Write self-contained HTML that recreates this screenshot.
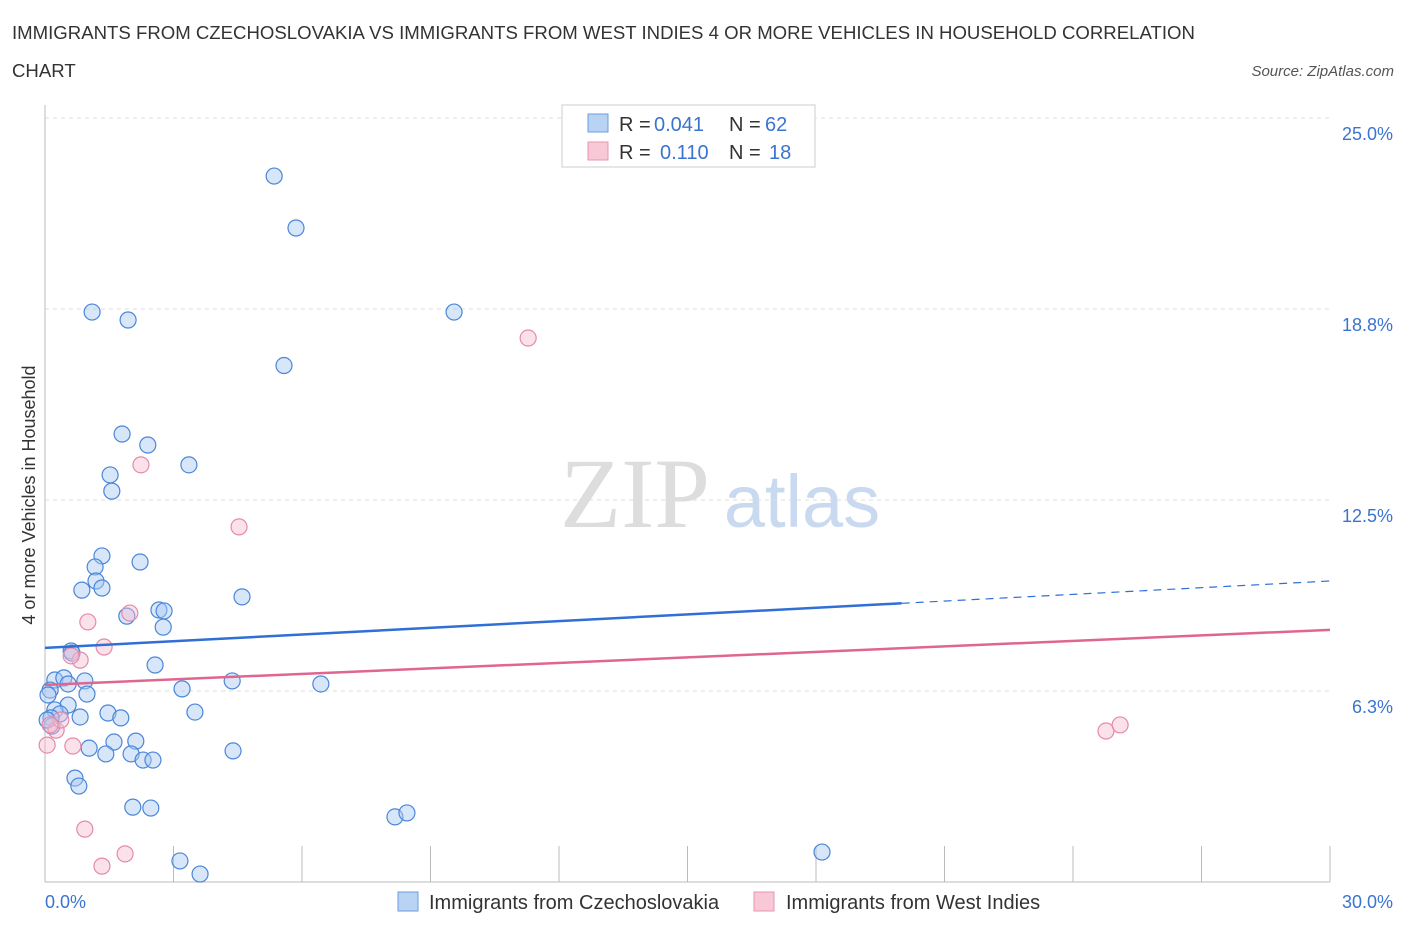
<!DOCTYPE html>
<html><head><meta charset="utf-8"><style>
body{margin:0;background:#fff;font-family:"Liberation Sans",sans-serif;}
svg{display:block}
</style></head><body>
<svg width="1406" height="930">
<text x="12" y="39" font-size="18.6" fill="#333">IMMIGRANTS FROM CZECHOSLOVAKIA VS IMMIGRANTS FROM WEST INDIES 4 OR MORE VEHICLES IN HOUSEHOLD CORRELATION</text>
<text x="12" y="77" font-size="18.6" fill="#333">CHART</text>
<text x="1394" y="76" font-size="15" fill="#555" font-style="italic" text-anchor="end">Source: ZipAtlas.com</text>
<text x="35" y="495" font-size="18" fill="#333" text-anchor="middle" transform="rotate(-90 35 495)">4 or more Vehicles in Household</text>
<g>
<text x="635" y="527" font-size="100" fill="#ddd" font-family="Liberation Serif,serif" text-anchor="middle">ZIP</text>
<text x="802" y="527" font-size="74" fill="#c9daf0" text-anchor="middle">atlas</text>
</g>
<g id="grid"></g><g id="axes"></g><g id="marks"></g>
<g font-size="20">
<rect x="562" y="105" width="253" height="62" fill="#fff" stroke="#ccc"/>
<rect x="588" y="114" width="20" height="18" fill="#b9d3f5" stroke="#6a9ee0"/>
<rect x="588" y="142" width="20" height="18" fill="#f8c8d6" stroke="#e894b0"/>
<text x="619" y="131" fill="#333">R =</text>
<text x="654" y="131" fill="#3a74d0">0.041</text>
<text x="729" y="131" fill="#333">N =</text>
<text x="765" y="131" fill="#3a74d0">62</text>
<text x="619" y="159" fill="#333">R =</text>
<text x="660" y="159" fill="#3a74d0">0.110</text>
<text x="729" y="159" fill="#333">N =</text>
<text x="769" y="159" fill="#3a74d0">18</text>
</g>
<g>
<rect x="398" y="892" width="20" height="19" fill="#b9d3f5" stroke="#6a9ee0"/>
<text x="429" y="909" font-size="20" fill="#333">Immigrants from Czechoslovakia</text>
<rect x="754" y="892" width="20" height="19" fill="#f8c8d6" stroke="#e894b0"/>
<text x="786" y="909" font-size="20" fill="#333">Immigrants from West Indies</text>
</g>
</svg>
<script>
const blueX=[5.35,5.86,1.10,1.94,9.55,5.58,1.80,2.40,3.36,1.52,1.56,1.33,2.22,1.17,1.19,0.86,1.33,4.60,1.91,2.66,2.78,2.76,0.61,0.63,2.57,0.23,0.44,0.93,0.54,3.20,4.37,6.44,0.98,0.12,0.54,0.23,0.35,0.14,1.47,0.82,1.77,3.50,0.16,1.61,2.12,1.03,1.42,2.01,2.29,2.52,4.39,0.70,0.79,2.05,2.47,8.17,8.45,3.15,3.62,18.14,0.07,0.05];
const blueY=[23.1,21.4,18.65,18.39,18.65,16.9,14.66,14.3,13.65,13.32,12.79,10.67,10.47,10.31,9.85,9.55,9.62,9.33,8.70,8.90,8.87,8.34,7.56,7.49,7.10,6.61,6.68,6.58,6.48,6.32,6.58,6.48,6.15,6.28,5.79,5.63,5.50,5.37,5.53,5.40,5.37,5.56,5.10,4.58,4.61,4.38,4.19,4.19,3.99,3.99,4.29,3.40,3.14,2.45,2.42,2.13,2.26,0.69,0.26,0.98,6.12,5.30];
const pinkX=[11.28,2.24,4.53,1.00,1.98,1.38,0.82,0.61,0.05,0.65,0.26,0.37,24.77,25.1,0.93,1.87,1.33,0.12];
const pinkY=[17.8,13.65,11.62,8.51,8.80,7.69,7.26,7.40,4.48,4.45,4.97,5.30,4.94,5.14,1.73,0.92,0.52,5.14];
const blueTrend=[7.66,9.85];
const pinkTrend=[6.45,8.25];
const yTicks=[25,18.75,12.5,6.25];
const yTickLabels=["25.0%","18.8%","12.5%","6.3%"];
const xTicks=[0,3,6,9,12,15,18,21,24,27,30];
const NS="http://www.w3.org/2000/svg";
const X=v=>45+v*1285/30, Y=v=>882-v*764/25;
function mk(tag,attrs,parent){const e=document.createElementNS(NS,tag);for(const k in attrs)e.setAttribute(k,attrs[k]);parent.appendChild(e);return e;}
const grid=document.getElementById('grid'),axes=document.getElementById('axes'),marks=document.getElementById('marks');
yTicks.forEach((t,i)=>{
 const l=mk('line',{x1:45,x2:1330,y1:Y(t),y2:Y(t),stroke:'#ddd','stroke-dasharray':'4 4'},grid);
 
 
 const tx=mk('text',{x:1393,y:Y(t)+22,'font-size':18,fill:'#3a74d0','text-anchor':'end'},axes);
 tx.textContent=yTickLabels[i];
 
 
});
const ya=mk('line',{x1:45,x2:45,y1:105,y2:882,stroke:'#bbb'},axes);


const xa=mk('line',{x1:45,x2:1330,y1:882,y2:882,stroke:'#bbb'},axes);


xTicks.forEach(t=>{
 const l=mk('line',{x1:X(t),x2:X(t),y1:846,y2:882,stroke:'#bbb'},axes);
 
 
});
[[0,'0.0%','start',45],[30,'30.0%','end',1393]].forEach(a=>{
 const tx=mk('text',{x:a[3],y:908,'font-size':18,fill:'#3a74d0','text-anchor':a[2]},axes);
 tx.textContent=a[1];
 
 
});
function pts(xs,ys,fill,stroke,name){xs.forEach((x,i)=>{
 const c=mk('circle',{cx:X(x),cy:Y(ys[i]),r:8,fill:fill,'fill-opacity':0.45,stroke:stroke,'stroke-width':1.2},marks);
 
 
});}
pts(blueX,blueY,'#a9c8f2','#4a86d8','point-czechoslovakia');
pts(pinkX,pinkY,'#f6bfd0','#e58aa9','point-west-indies');
const bx=20;
const bv=blueTrend[0]+(blueTrend[1]-blueTrend[0])*bx/30;
const b1=mk('line',{x1:X(0),y1:Y(blueTrend[0]),x2:X(bx),y2:Y(bv),stroke:'#2f6fd6','stroke-width':2.5},marks);


const b2=mk('line',{x1:X(bx),y1:Y(bv),x2:X(30),y2:Y(blueTrend[1]),stroke:'#2f6fd6','stroke-width':1.2,'stroke-dasharray':'8 6'},marks);


const p1=mk('line',{x1:X(0),y1:Y(pinkTrend[0]),x2:X(30),y2:Y(pinkTrend[1]),stroke:'#e0668f','stroke-width':2.5},marks);


</script>
</body></html>
